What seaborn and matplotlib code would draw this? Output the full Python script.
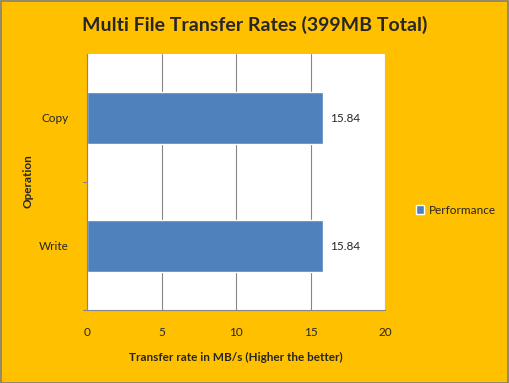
import matplotlib
matplotlib.use("Agg")
import matplotlib.pyplot as plt
import seaborn as sns
import pandas as pd

categories = ["Copy", "Write"]
values = [15.84, 15.84]
series_name = "Performance"
x_ticks = [0, 5, 10, 15, 20]

sns.set_theme(style="white")
plt.rcParams["font.family"] = ["Lato", "DejaVu Sans"]

df = pd.DataFrame({"Operation": categories, "Rate": values, "Series": series_name})

bg = "#FFC000"
bar_color = "#4F81BD"
grid_color = "#868686"

fig = plt.figure(figsize=(5.09, 3.83), dpi=100, facecolor=bg)
ax = fig.add_axes([87/509, 1-310/383, (385-87)/509, (310-54)/383])
sns.barplot(data=df, x="Rate", y="Operation", hue="Series", orient="h",
            palette=[bar_color], width=0.4, ax=ax, legend=True, saturation=1)
ax.set_facecolor("white")
ax.set_xlim(0, 20)
ax.set_ylim(1.5, -0.5)
ax.set_xticks(x_ticks)
ax.set_xticklabels([str(t) for t in x_ticks], fontsize=8.5)
ax.tick_params(axis="x", length=3, color=grid_color, pad=9)
ax.set_yticks([0, 1])
ax.set_yticklabels(categories, fontsize=8.5)
ax.tick_params(axis="y", length=0, pad=13)
for yb in [0.5, 1.5]:
    ax.plot([-0.012, 0], [yb, yb], color=grid_color, lw=0.8, transform=ax.get_yaxis_transform(), clip_on=False)
ax.xaxis.grid(True, color=grid_color, lw=0.8)
ax.set_axisbelow(True)
for s in ["top", "right"]:
    ax.spines[s].set_visible(False)
for s in ["left", "bottom"]:
    ax.spines[s].set_color(grid_color)
    ax.spines[s].set_linewidth(0.8)

for c in ax.containers:
    ax.bar_label(c, labels=[f"{v:.2f}" for v in values], padding=5, fontsize=8.5)

ax.set_xlabel("Transfer rate in MB/s (Higher the better)", fontsize=8.5, fontweight="bold", labelpad=10)
ax.set_ylabel("")
fig.text(28/509, 1-181/383, "Operation", rotation=90, ha="center", va="center",
         fontsize=8.5, fontweight="bold")

fig.text(0.5, 1-25/383, "Multi File Transfer Rates (399MB Total)", ha="center", va="center",
         fontsize=14, fontweight="bold")

leg = ax.legend(loc="center left", bbox_to_anchor=(405/509, 1-210/383), bbox_transform=fig.transFigure,
                frameon=False, fontsize=8.5, handlelength=0.7, handleheight=0.7, handletextpad=0.4)

border = plt.Rectangle((0.001, 0.001), 0.997, 0.997, transform=fig.transFigure, fill=False,
                       edgecolor="#808080", lw=1.2)
fig.patches.append(border)

fig.savefig("out.png", dpi=100, facecolor=bg)
